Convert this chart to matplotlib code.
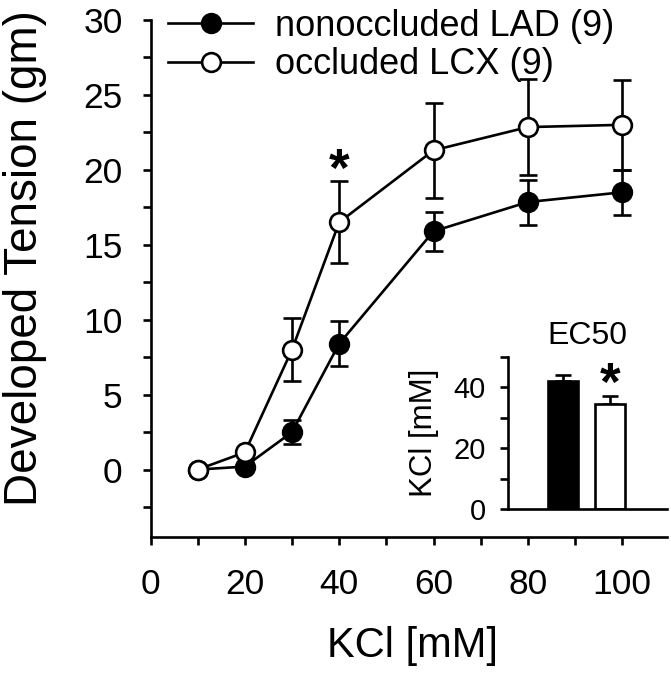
import matplotlib.pyplot as plt
import numpy as np

plt.rcParams['font.family'] = ['Liberation Sans', 'DejaVu Sans']

# KCl dose response
kcl = [10, 20, 30, 40, 60, 80, 100]
lad_mean = [0.0, 0.2, 2.5, 8.4, 15.9, 17.85, 18.5]
lad_err = [0.0, 0.2, 0.8, 1.5, 1.3, 1.5, 1.5]
lcx_mean = [0.0, 1.15, 8.0, 16.5, 21.3, 22.85, 23.0]
lcx_err = [0.0, 0.2, 2.1, 2.75, 3.15, 3.2, 3.0]
labels = ['nonoccluded LAD (9)', 'occluded LCX (9)']

# EC50 inset
ec50_mean = [41.9, 34.4]
ec50_err = [2.2, 2.6]

lw = 1.9
fig = plt.figure(figsize=(6.71, 6.75), dpi=100)
ax = fig.add_axes([0.2243, 0.2044, 0.7698, 0.7661])

eb1 = ax.errorbar(kcl, lad_mean, yerr=lad_err, fmt='-o', color='black',
                  mfc='black', mec='black', ms=13.5, mew=lw, lw=lw,
                  capsize=6.5, capthick=lw, elinewidth=lw, zorder=3)
eb2 = ax.errorbar(kcl, lcx_mean, yerr=lcx_err, fmt='-o', color='black',
                  mfc='white', mec='black', ms=13.5, mew=lw, lw=lw,
                  capsize=6.5, capthick=lw, elinewidth=lw, zorder=4)

ax.text(40, 18.95, '*', ha='center', va='baseline', fontsize=38, fontweight='bold')

ax.set_xlim(0, 109.5)
ax.set_ylim(-4.5, 30)
ax.set_xticks([0, 20, 40, 60, 80, 100])
ax.set_xticks(np.arange(10, 110, 20), minor=True)
ax.set_yticks([0, 5, 10, 15, 20, 25, 30])
ax.set_yticks(np.arange(-2.5, 30, 5), minor=True)
for s in ['top', 'right']:
    ax.spines[s].set_visible(False)
for s in ['left', 'bottom']:
    ax.spines[s].set_linewidth(lw)
ax.tick_params(which='both', direction='out', length=6, width=lw)
ax.tick_params(axis='y', which='major', labelsize=25.5, pad=14)
ax.tick_params(axis='x', which='major', labelsize=25.5, pad=16)

ax.set_xlabel('KCl [mM]', fontsize=30, va='center')
ax.xaxis.set_label_coords(0.507, -0.211)
ax.set_ylabel('Developed Tension (gm)', fontsize=33, va='center')
ax.yaxis.set_label_coords(-0.243, 0.54)

ax.legend([eb1[0], eb2[0]], labels, loc='upper left',
          bbox_to_anchor=(168 / 671, 0.987), bbox_transform=fig.transFigure,
          frameon=False, fontsize=26, numpoints=1, handlelength=2.36,
          handletextpad=0.6, labelspacing=0.1, borderpad=0, borderaxespad=0)

# inset
ins = fig.add_axes([0.7571, 0.2455, 0.2370, 0.2261])
ins.bar([1, 2], ec50_mean, width=0.64, color=['black', 'white'],
        edgecolor='black', linewidth=lw, zorder=2)
ins.errorbar([1, 2], ec50_mean, yerr=[[0, 0], ec50_err], fmt='none',
             ecolor='black', capsize=6, capthick=lw, elinewidth=lw, zorder=1)
ins.text(2, 35.8, '*', ha='center', va='baseline', fontsize=38, fontweight='bold')
ins.set_xlim(-0.177, 3.206)
ins.set_ylim(0, 50)
ins.set_xticks([])
ins.set_yticks([0, 20, 40])
ins.set_yticks([10, 30, 50], minor=True)
for s in ['top', 'right']:
    ins.spines[s].set_visible(False)
for s in ['left', 'bottom']:
    ins.spines[s].set_linewidth(lw)
ins.tick_params(which='both', direction='out', length=6, width=lw)
ins.tick_params(axis='y', labelsize=21, pad=10)
ins.set_title('EC50', fontsize=23, pad=9)
ins.set_ylabel('KCl [mM]', fontsize=22.5, va='center')
ins.yaxis.set_label_coords(-0.53, 0.5)

plt.savefig('out.png', dpi=100)
